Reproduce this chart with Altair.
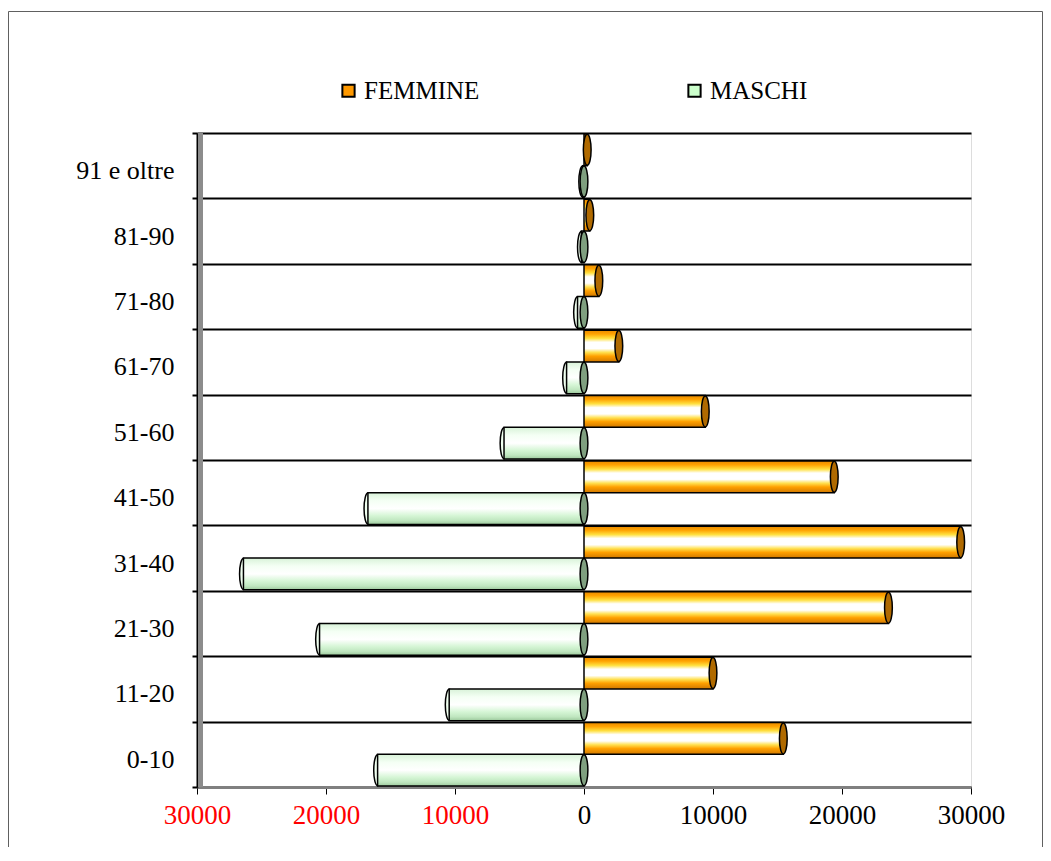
import altair as alt
import pandas as pd

categories = ["0-10", "11-20", "21-30", "31-40", "41-50", "51-60", "61-70", "71-80", "81-90", "91 e oltre"]
femmine = [15450, 10000, 23600, 29200, 19400, 9400, 2700, 1150, 450, 250]
maschi = [16000, 10450, 20500, 26400, 16750, 6200, 1350, 500, 200, 100]
series = ["FEMMINE", "MASCHI"]
x_ticks = [-30000, -20000, -10000, 0, 10000, 20000, 30000]

rows = []
for c, f, m in zip(categories, femmine, maschi):
    rows.append({"eta": c, "sesso": "FEMMINE", "valore": f})
    rows.append({"eta": c, "sesso": "MASCHI", "valore": -m})
df = pd.DataFrame(rows)

W, H = 774, 654
PAD = {"left": 189, "top": 125, "right": 72, "bottom": 60}
y_order = categories[::-1]
FONT = "Liberation Serif"

orange_grad = {
    "gradient": "linear", "x1": 0, "y1": 0, "x2": 0, "y2": 1,
    "stops": [
        {"offset": 0.0, "color": "#E88A00"},
        {"offset": 0.12, "color": "#FFA200"},
        {"offset": 0.26, "color": "#FFE040"},
        {"offset": 0.38, "color": "#FFFFFF"},
        {"offset": 0.58, "color": "#FFFFFF"},
        {"offset": 0.70, "color": "#FFE050"},
        {"offset": 0.82, "color": "#FFA000"},
        {"offset": 1.0, "color": "#D07800"},
    ],
}
green_grad = {
    "gradient": "linear", "x1": 0, "y1": 0, "x2": 0, "y2": 1,
    "stops": [
        {"offset": 0.0, "color": "#D8F2D8"},
        {"offset": 0.25, "color": "#F4FFF4"},
        {"offset": 0.5, "color": "#FFFFFF"},
        {"offset": 0.72, "color": "#D6F6D6"},
        {"offset": 0.88, "color": "#BFE6BF"},
        {"offset": 1.0, "color": "#9CC89C"},
    ],
}
ellipse = "M0,-1A0.25,1,0,0,1,0,1A0.25,1,0,0,1,0,-1Z"

x_scale = alt.Scale(domain=[-30000, 30000], nice=False, zero=False)
x_axis = alt.Axis(
    values=x_ticks,
    labelExpr="format(abs(datum.value), 'd')",
    labelColor={"condition": {"test": "datum.value < 0", "value": "#FF0000"}, "value": "#000000"},
    labelFont=FONT, labelFontSize=27, labelPadding=8, labelFlush=False, labelOverlap=False,
    grid=False, ticks=True, tickSize=7, tickColor="#000000", tickWidth=1,
    domain=True, domainColor="#808080", domainWidth=3,
)
y_axis = alt.Axis(
    tickBand="extent", grid=True, gridColor="#000000", gridWidth=2,
    ticks=True, tickSize=5, tickColor="#000000", tickWidth=2,
    domain=True, domainColor="#000000", domainWidth=2,
    labelFont=FONT, labelFontSize=26, labelColor="#000000", labelPadding=18, labelOffset=5,
)

X = alt.X("valore:Q", scale=x_scale, axis=x_axis, title=None, stack=None)
Y = alt.Y("eta:N", sort=y_order, scale=alt.Scale(paddingInner=0, paddingOuter=0), axis=y_axis, title=None)
YO = alt.YOffset("sesso:N", sort=series, scale=alt.Scale(paddingInner=0, paddingOuter=0.03))

base = alt.Chart(df)
fem = base.transform_filter(alt.datum.sesso == "FEMMINE")
mas = base.transform_filter(alt.datum.sesso == "MASCHI")

frame = alt.Chart(pd.DataFrame({"k": [0]})).mark_rect(
    filled=False, stroke="#606060", strokeWidth=1
).encode(x=alt.value(-188.5), x2=alt.value(845.5), y=alt.value(-121.5), y2=alt.value(780))

wall = alt.Chart(pd.DataFrame({"k": [0]})).mark_rect(fill="#8C8C8C").encode(
    x=alt.value(1), x2=alt.value(6), y=alt.value(0), y2=alt.value(H)
)

green_end = mas.mark_point(
    shape=ellipse, filled=True, fill="#F0FFF0", stroke="#000000", strokeWidth=1.5, size=961, opacity=1
).encode(x=X, y=Y, yOffset=YO)

bars_f = fem.mark_bar(fill=orange_grad, stroke="#000000", strokeWidth=1.5).encode(
    x=X, x2=alt.datum(0), y=Y, yOffset=YO
)
bars_m = mas.mark_bar(fill=green_grad, stroke="#000000", strokeWidth=1.5).encode(
    x=X, x2=alt.datum(0), y=Y, yOffset=YO
)

orange_cap = fem.mark_point(
    shape=ellipse, filled=True, fill="#B06A00", stroke="#000000", strokeWidth=1.5, size=961, opacity=1
).encode(x=X, y=Y, yOffset=YO)

green_cap = mas.mark_point(
    shape=ellipse, filled=True, fill="#7F9F7F", stroke="#000000", strokeWidth=1.5, size=961, opacity=1
).encode(x=alt.datum(0), y=Y, yOffset=YO)

legend_layer = base.mark_square(opacity=0).encode(
    x=X, y=Y, yOffset=YO,
    color=alt.Color(
        "sesso:N",
        scale=alt.Scale(domain=series, range=["#FF9900", "#CCFFCC"]),
        legend=alt.Legend(
            orient="none", legendX=139, legendY=-55, direction="horizontal", title=None,
            labelFont=FONT, labelFontSize=25, labelColor="#000000",
            symbolType="square", symbolSize=150, symbolStrokeColor="#000000",
            symbolStrokeWidth=2, symbolOpacity=1, columnPadding=202, labelOffset=3, padding=0,
        ),
    ),
)

chart = alt.layer(
    frame, wall, green_end, bars_f, bars_m, orange_cap, green_cap, legend_layer
).properties(
    width=W, height=H, padding=PAD, autosize=alt.AutoSizeParams(type="none"), background="#FFFFFF"
).configure_view(stroke="#808080", strokeWidth=2).configure(font=FONT)

chart.save("out.html", embed_options={"renderer": "svg", "actions": False})
